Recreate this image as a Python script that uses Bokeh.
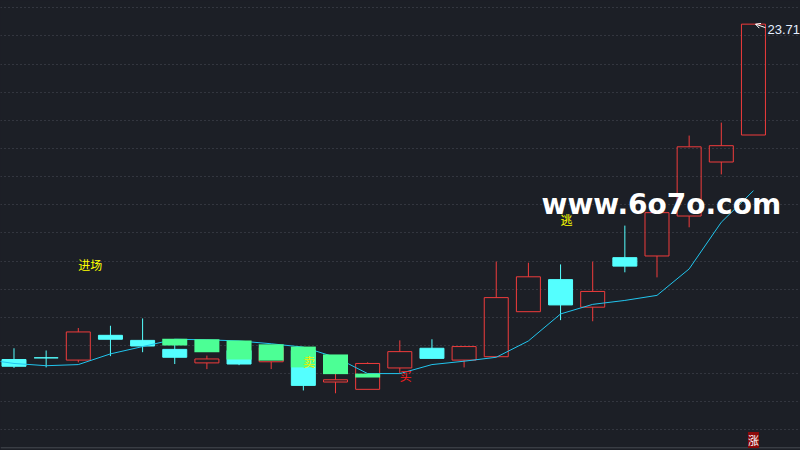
import numpy as np
from bokeh.plotting import figure
from bokeh.models import (ColumnDataSource, Range1d, Grid, FixedTicker, Label,
                          Arrow, OpenHead, Span, GlobalInlineStyleSheet)
from bokeh.core.properties import value
from bokeh.embed import file_html
from bokeh.resources import INLINE

# ---------------- data ----------------
days = list(range(1, 25))
opens  = [17.75, 17.78, 17.74, 18.18, 18.09, 17.93, 17.69, 17.91, 17.71, 17.91, 17.35, 17.22,
          17.60, 17.95, 17.74, 17.80, 18.60, 19.17, 18.68, 19.56, 19.59, 20.30, 21.26, 21.74]
highs  = [17.95, 17.91, 18.31, 18.35, 18.48, 18.03, 17.82, 18.00, 17.99, 17.96, 17.55, 17.70,
          18.09, 18.11, 17.98, 19.49, 19.47, 19.44, 19.49, 20.13, 20.36, 21.73, 21.96, 23.71]
lows   = [17.60, 17.61, 17.70, 17.81, 17.88, 17.67, 17.58, 17.65, 17.58, 17.20, 17.15, 17.22,
          17.50, 17.77, 17.61, 17.80, 18.60, 18.45, 18.43, 19.30, 19.21, 20.10, 21.04, 21.74]
closes = [17.63, 17.78, 18.24, 18.11, 17.99, 17.79, 17.76, 17.67, 17.96, 17.29, 17.39, 17.68,
          17.89, 17.77, 17.98, 18.85, 19.22, 18.72, 18.96, 19.41, 20.36, 21.53, 21.55, 23.71]

ma_days = list(range(0, 25))
ma_vals = [17.76, 17.68, 17.64, 17.66, 17.85, 17.98, 18.11, 18.10, 18.08, 18.03, 17.97, 17.79,
           17.50, 17.50, 17.66, 17.72, 17.79, 18.08, 18.56, 18.73, 18.80, 18.89, 19.36, 20.19, 20.75]

green_days   = [6, 7, 8, 9, 10, 11, 12]
green_top    = [18.12, 18.11, 18.09, 18.02, 17.98, 17.84, 17.50]
green_bottom = [18.00, 17.88, 17.75, 17.73, 17.61, 17.49, 17.43]

sig_days  = [3, 10, 13, 18]
sig_text  = ["进场", "卖", "买", "逃"]
sig_price = [19.44, 17.71, 17.47, 20.24]
sig_color = ["#ffff00", "#f0f000", "#ff1e1e", "#ffff00"]

grid_levels = [24.0, 23.5, 23.0, 22.5, 22.0, 21.5, 21.0, 20.5, 20.0, 19.5, 19.0,
               18.5, 18.0, 17.5, 17.0, 16.5]

# ---------------- style ----------------
BG = "#1c1f26"
GRID = "#4b4f59"
RED = "#f03c3c"
CYAN = "#54ffff"
GREEN = "#4cff95"
MA_C = "#21c5ee"
PX_X = 32.15   # px per day
PX_Y = 56.27   # px per price unit

p = figure(width=800, height=450,
           x_range=Range1d(0.5801, 25.4635), y_range=Range1d(16.1331, 24.1303),
           x_axis_type=None, y_axis_type=None, toolbar_location=None,
           output_backend="svg", min_border=0,
           background_fill_color=BG, border_fill_color=BG, outline_line_color=None)
p.stylesheets = [GlobalInlineStyleSheet(css="html, body { background-color: #1c1f26; }")]

p.add_layout(Grid(dimension=1, ticker=FixedTicker(ticks=grid_levels),
                  grid_line_color=GRID, grid_line_dash="1 3", grid_line_width=1))
# bottom frame line of the price panel
p.add_layout(Span(location=16.181, dimension="width", line_color="#464a52", line_width=1))

o = np.array(opens); c = np.array(closes); h = np.array(highs); l = np.array(lows)
d = np.array(days)
up = c > o
dn = ~up

# up candles: red hollow, wicks outside body
up_src = ColumnDataSource(dict(x=d[up], o=o[up], c=c[up], h=h[up], l=l[up]))
p.segment(x0="x", y0="c", x1="x", y1="h", source=up_src, line_color=RED, line_width=1)
p.segment(x0="x", y0="o", x1="x", y1="l", source=up_src, line_color=RED, line_width=1)
p.vbar(x="x", width=24 / PX_X, top="c", bottom="o", source=up_src,
       fill_color=None, line_color=RED, line_width=1)

# down / flat candles: cyan filled
dn_src = ColumnDataSource(dict(x=d[dn], o=o[dn], c=c[dn], h=h[dn], l=l[dn]))
p.segment(x0="x", y0="h", x1="x", y1="l", source=dn_src, line_color=CYAN, line_width=1)
p.vbar(x="x", width=24 / PX_X, top="o", bottom="c", source=dn_src,
       fill_color=CYAN, line_color=CYAN, line_width=1)

# moving average
p.line(ma_days, ma_vals, line_color=MA_C, line_width=1)

# green indicator bars
p.vbar(x=green_days, width=25 / PX_X, top=green_top, bottom=green_bottom,
       fill_color=GREEN, line_color=None)

# highest price marker
hi_i = int(np.argmax(h))
hi_x, hi_v = days[hi_i], highs[hi_i]
p.add_layout(Arrow(end=OpenHead(size=5, line_color="white", line_width=1),
                   x_start=hi_x + 12 / PX_X, y_start=hi_v - 3.5 / PX_Y,
                   x_end=hi_x + 2 / PX_X, y_end=hi_v,
                   line_color="white", line_width=1))
p.add_layout(Label(x=hi_x, y=hi_v, x_offset=14, y_offset=-5, text=f"{hi_v:.2f}",
                   text_color="#e4eeff", text_font="Liberation Sans",
                   text_font_size="13px", text_baseline="middle", text_align="left"))

# bottom "涨" badge under last day
p.add_layout(Label(x=days[-1], y=16.32, text="涨", text_color="white",
                   text_font="Noto Sans CJK SC", text_font_size="11px",
                   text_align="center", text_baseline="middle",
                   background_fill_color="#8b0a0a", padding=0))

# watermark
p.add_layout(Label(x=17.41, y=20.51, text="www.6o7o.com", text_color="white",
                   text_font="DejaVu Sans", text_font_style="bold",
                   text_font_size="28px", text_align="left", text_baseline="alphabetic"))

# signal texts (drawn on top)
p.text(x=sig_days, y=sig_price, text=sig_text, text_color=sig_color,
       text_align="left", text_baseline="middle",
       text_font=value("Noto Sans CJK SC"), text_font_size="12px", level="overlay")

open("out.html", "w").write(file_html(p, INLINE))
